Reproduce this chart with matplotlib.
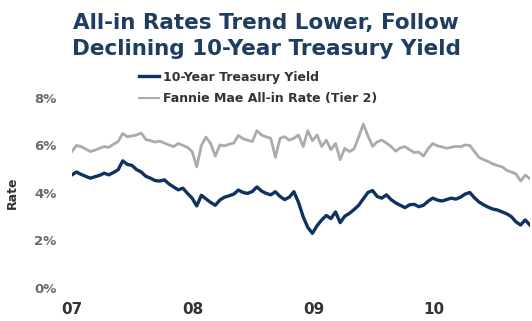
import matplotlib.pyplot as plt
import pandas as pd

# biweekly readings, Jan 2007 - Oct 2010 (percent)
treasury = [4.76, 4.88, 4.78, 4.70, 4.62, 4.68, 4.74, 4.83, 4.76, 4.86,
            4.97, 5.35, 5.20, 5.16, 4.98, 4.88, 4.70, 4.62, 4.52, 4.50,
            4.55, 4.38, 4.25, 4.13, 4.20, 3.98, 3.78, 3.45, 3.90, 3.75,
            3.60, 3.48, 3.70, 3.82, 3.88, 3.95, 4.12, 4.02, 3.98, 4.06,
            4.25, 4.08, 3.98, 3.92, 4.05, 3.85, 3.72, 3.82, 4.05, 3.60,
            3.00, 2.55, 2.30, 2.62, 2.86, 3.05, 2.92, 3.20, 2.75, 3.02,
            3.14, 3.30, 3.48, 3.75, 4.02, 4.10, 3.85, 3.78, 3.92, 3.72,
            3.58, 3.48, 3.38, 3.50, 3.52, 3.42, 3.48, 3.65, 3.78, 3.70,
            3.66, 3.72, 3.78, 3.74, 3.82, 3.95, 4.02, 3.80, 3.62, 3.50,
            3.40, 3.32, 3.28, 3.20, 3.12, 3.00, 2.78, 2.65, 2.86, 2.65]

all_in = [5.74, 6.00, 5.95, 5.85, 5.74, 5.80, 5.88, 5.95, 5.92, 6.05,
          6.16, 6.50, 6.36, 6.40, 6.44, 6.52, 6.25, 6.20, 6.14, 6.18,
          6.10, 6.02, 5.95, 6.08, 6.00, 5.92, 5.74, 5.10, 6.00, 6.35,
          6.08, 5.55, 6.02, 5.98, 6.05, 6.10, 6.42, 6.28, 6.22, 6.16,
          6.62, 6.44, 6.36, 6.30, 5.50, 6.30, 6.37, 6.22, 6.30, 6.44,
          5.95, 6.62, 6.20, 6.44, 5.95, 6.22, 5.82, 6.08, 5.40, 5.88,
          5.74, 5.85, 6.35, 6.90, 6.40, 5.96, 6.15, 6.22, 6.10, 5.95,
          5.76, 5.90, 5.95, 5.82, 5.70, 5.72, 5.55, 5.86, 6.08, 5.98,
          5.94, 5.88, 5.92, 5.96, 5.94, 6.02, 6.00, 5.75, 5.50, 5.40,
          5.32, 5.22, 5.15, 5.10, 4.95, 4.88, 4.80, 4.50, 4.75, 4.60]

dates = pd.date_range('2007-01-01', periods=len(treasury), freq='14D')

yticks = [0, 2, 4, 6, 8]
year_ticks = ['2007-01-01', '2008-01-01', '2009-01-01', '2010-01-01']
year_labels = ['07', '08', '09', '10']

navy = '#0f3260'
grey = '#ababab'

fig = plt.figure(figsize=(5.32, 3.21), dpi=100)
ax = fig.add_axes([0.135, 0.103, 0.861, 0.592])

ax.plot(dates, treasury, color=navy, lw=2.4, label='10-Year Treasury Yield')
ax.plot(dates, all_in, color=grey, lw=2.0, label='Fannie Mae All-in Rate (Tier 2)')

ax.set_ylim(0, 8)
ax.set_xlim(pd.Timestamp('2007-01-01'), pd.Timestamp('2010-10-18'))
ax.set_yticks(yticks)
ax.set_yticklabels([f'{v}%' for v in yticks], color='#6a6a6a', fontsize=9.5, fontweight='bold')
ax.set_xticks(pd.to_datetime(year_ticks))
ax.set_xticklabels(year_labels, color='#333333', fontsize=11, fontweight='bold')
ax.tick_params(length=0, pad=10)
ax.tick_params(axis='y', pad=11)
for s in ax.spines.values():
    s.set_visible(False)

ax.set_ylabel('Rate', color='#333333', fontsize=9, fontweight='bold', labelpad=11)

fig.text(0.5, 0.96, 'All-in Rates Trend Lower, Follow\nDeclining 10-Year Treasury Yield',
         ha='center', va='top', fontsize=15.5, fontweight='bold', color='#1f3d63',
         linespacing=1.4)

leg = ax.legend(loc='upper left', bbox_to_anchor=(0.24, 0.815), bbox_transform=fig.transFigure,
                frameon=False, handlelength=1.6, handletextpad=0.3, labelspacing=0.7,
                prop={'size': 9, 'weight': 'bold'})
leg.get_lines()[1].set_linewidth(1.5)
for t in leg.get_texts():
    t.set_color('#333333')

plt.savefig('out.png', dpi=100)
